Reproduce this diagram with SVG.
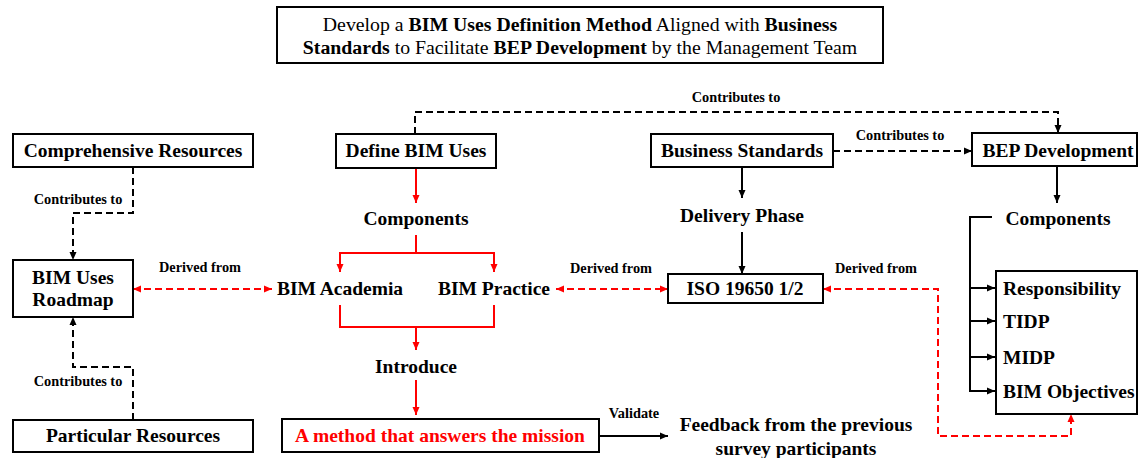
<svg xmlns="http://www.w3.org/2000/svg" width="1138" height="458" viewBox="0 0 1138 458">
  <style>
    .box { fill: #fff; stroke: #000; stroke-width: 2; }
    .lbl { font-family: "Liberation Serif", "Times New Roman", serif; font-weight: bold; font-size: 19.5px; fill: #000; text-anchor: middle; }
    .lbl-l { font-family: "Liberation Serif", "Times New Roman", serif; font-weight: bold; font-size: 19.5px; fill: #000; }
    .small { font-family: "Liberation Serif", "Times New Roman", serif; font-weight: bold; font-size: 14.3px; fill: #000; text-anchor: middle; }
    .title { font-family: "Liberation Serif", "Times New Roman", serif; font-size: 19.8px; fill: #000; text-anchor: middle; }
    .title .b { font-weight: bold; }
    .red { fill: #ff0000; }
    .ln { fill: none; stroke: #000; stroke-width: 2; }
    .ln-red { fill: none; stroke: #ff0000; stroke-width: 2; }
    .dash { stroke-dasharray: 7 4; }
  </style>
  <defs>
    <marker id="arrow" viewBox="0 0 8 8" refX="8" refY="4" markerWidth="8" markerHeight="8" markerUnits="userSpaceOnUse" orient="auto-start-reverse">
      <path d="M0,0.5 L8,4 L0,7.5 z" fill="#000"/>
    </marker>
    <marker id="arrow-red" viewBox="0 0 8 8" refX="8" refY="4" markerWidth="8" markerHeight="8" markerUnits="userSpaceOnUse" orient="auto-start-reverse">
      <path d="M0,0.5 L8,4 L0,7.5 z" fill="#ff0000"/>
    </marker>
  </defs>

  <rect width="1138" height="458" fill="#fff"/>

  <!-- heading -->
  <g id="title">
    <rect class="box" x="277" y="7" width="606" height="56"/>
    <text class="title" x="580" y="31">Develop a <tspan class="b">BIM Uses Definition Method</tspan> Aligned with <tspan class="b">Business</tspan></text>
    <text class="title" x="580" y="54"><tspan class="b">Standards</tspan> to Facilitate <tspan class="b">BEP Development</tspan> by the Management Team</text>
  </g>

  <!-- connectors -->
  <g id="connectors">
    <path class="ln dash" d="M133 167 V213 H73 V260" marker-end="url(#arrow)"/>
    <path class="ln dash" d="M133 420 V367 H73 V317" marker-end="url(#arrow)"/>
    <path class="ln-red dash" d="M133 289 H272" marker-start="url(#arrow-red)" marker-end="url(#arrow-red)"/>
    <path class="ln dash" d="M415 134 V112 H1058 V133" marker-end="url(#arrow)"/>
    <path class="ln dash" d="M833 151 H972" marker-end="url(#arrow)"/>

    <path class="ln-red" d="M416 168 V203" marker-end="url(#arrow-red)"/>
    <path class="ln-red" d="M416 235 V253"/>
    <path class="ln-red" d="M416 253 H340 V272" marker-end="url(#arrow-red)"/>
    <path class="ln-red" d="M416 253 H494 V272" marker-end="url(#arrow-red)"/>
    <path class="ln-red" d="M340 305 V327 H494 V305"/>
    <path class="ln-red" d="M416 327 V350" marker-end="url(#arrow-red)"/>
    <path class="ln-red" d="M416 380 V415" marker-end="url(#arrow-red)"/>
    <path class="ln" d="M599 436 H668" marker-end="url(#arrow)"/>

    <path class="ln-red dash" d="M556 289 H668" marker-start="url(#arrow-red)" marker-end="url(#arrow-red)"/>
    <path class="ln" d="M742 167 V198" marker-end="url(#arrow)"/>
    <path class="ln" d="M742 232 V274" marker-end="url(#arrow)"/>
    <path class="ln-red dash" d="M823 289 H938 V436 H1071 V414" marker-start="url(#arrow-red)" marker-end="url(#arrow-red)"/>

    <path class="ln" d="M1057 166 V203" marker-end="url(#arrow)"/>
    <path class="ln" d="M992 217 H970 V391"/>
    <path class="ln" d="M970 288 H995" marker-end="url(#arrow)"/>
    <path class="ln" d="M970 321 H995" marker-end="url(#arrow)"/>
    <path class="ln" d="M970 357 H995" marker-end="url(#arrow)"/>
    <path class="ln" d="M969 391 H995" marker-end="url(#arrow)"/>

    <text class="small" x="78" y="204">Contributes to</text>
    <text class="small" x="78" y="386">Contributes to</text>
    <text class="small" x="200" y="272">Derived from</text>
    <text class="small" x="736" y="102">Contributes to</text>
    <text class="small" x="900" y="140">Contributes to</text>
    <text class="small" x="611" y="273">Derived from</text>
    <text class="small" x="876" y="273">Derived from</text>
    <text class="small" x="634" y="418">Validate</text>
  </g>

  <!-- left column -->
  <g id="comprehensive-resources">
    <rect class="box" x="13" y="134" width="240" height="33"/>
    <text class="lbl" x="133" y="157">Comprehensive Resources</text>
  </g>
  <g id="bim-uses-roadmap">
    <rect class="box" x="13" y="260" width="120" height="57"/>
    <text class="lbl" x="73" y="284">BIM Uses</text>
    <text class="lbl" x="73" y="306">Roadmap</text>
  </g>
  <g id="particular-resources">
    <rect class="box" x="13" y="420" width="240" height="32"/>
    <text class="lbl" x="133" y="442">Particular Resources</text>
  </g>

  <!-- BIM uses column -->
  <g id="define-bim-uses">
    <rect class="box" x="336" y="134" width="160" height="34"/>
    <text class="lbl" x="416" y="157">Define BIM Uses</text>
  </g>
  <g id="components-left">
    <text class="lbl" x="416" y="225">Components</text>
  </g>
  <g id="bim-academia">
    <text class="lbl" x="340" y="295">BIM Academia</text>
  </g>
  <g id="bim-practice">
    <text class="lbl" x="494" y="295">BIM Practice</text>
  </g>
  <g id="introduce">
    <text class="lbl" x="416" y="373">Introduce</text>
  </g>
  <g id="method">
    <rect class="box" x="282" y="419" width="317" height="33"/>
    <text class="lbl red" x="440" y="442">A method that answers the mission</text>
  </g>
  <g id="feedback">
    <text class="lbl" x="796" y="431">Feedback from the previous</text>
    <text class="lbl" x="796" y="455">survey participants</text>
  </g>

  <!-- standards column -->
  <g id="business-standards">
    <rect class="box" x="651" y="134" width="182" height="33"/>
    <text class="lbl" x="742" y="157">Business Standards</text>
  </g>
  <g id="delivery-phase">
    <text class="lbl" x="742" y="222">Delivery Phase</text>
  </g>
  <g id="iso-19650">
    <rect class="box" x="668" y="274" width="155" height="29"/>
    <text class="lbl" x="745" y="295">ISO 19650 1/2</text>
  </g>

  <!-- BEP column -->
  <g id="bep-development">
    <rect class="box" x="972" y="133" width="165" height="33"/>
    <text class="lbl" x="1058" y="157">BEP Development</text>
  </g>
  <g id="components-right">
    <text class="lbl" x="1058" y="225">Components</text>
  </g>
  <g id="bep-components">
    <rect class="box" x="996" y="271" width="141" height="143"/>
    <text class="lbl-l" x="1003" y="295">Responsibility</text>
    <text class="lbl-l" x="1003" y="328">TIDP</text>
    <text class="lbl-l" x="1003" y="364">MIDP</text>
    <text class="lbl-l" x="1003" y="398">BIM Objectives</text>
  </g>
</svg>
